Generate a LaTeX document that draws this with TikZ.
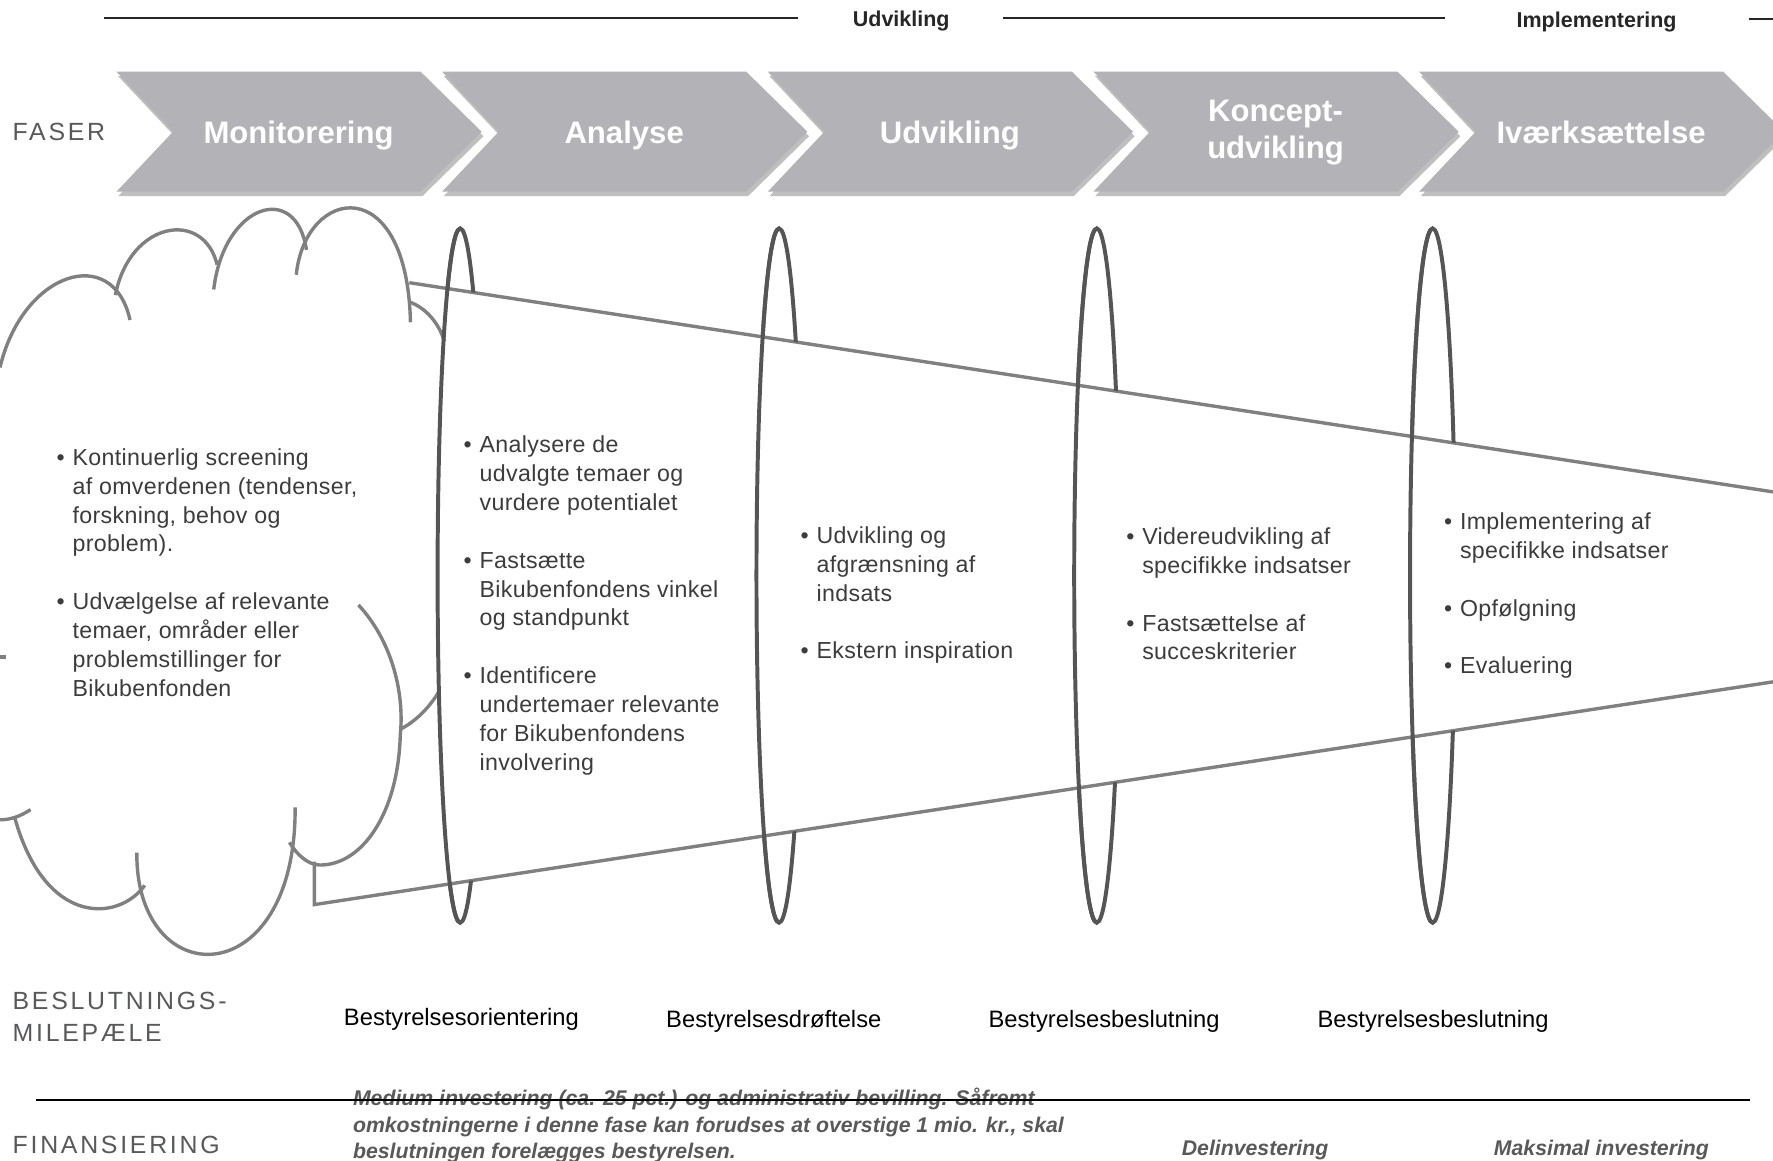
\documentclass[tikz,border=0pt]{standalone}
\usepackage{fontspec}
\setmainfont{Liberation Sans}
\newfontfamily\bodyfont[LetterSpace=1.5]{Liberation Sans}
\newfontfamily\capfont[LetterSpace=11]{Liberation Sans}
\usetikzlibrary{shadows}
\definecolor{chevgray}{RGB}{178,178,183}
\definecolor{cloudgray}{RGB}{128,128,128}
\definecolor{ringgray}{RGB}{85,85,85}
\definecolor{bodygray}{RGB}{60,60,60}
\definecolor{capgray}{RGB}{88,89,91}
\definecolor{fingray}{RGB}{89,89,89}
\newcommand{\bul}{\llap{\textbullet\hspace{7pt}}}
\begin{document}
\begin{tikzpicture}[x=1pt,y=-1pt,
  chev/.style={fill=chevgray, drop shadow={shadow xshift=1.5pt, shadow yshift=-4pt, opacity=.25, fill=black}},
  phase/.style={text=white, font=\fontsize{27.5}{33}\selectfont\bfseries, align=center, inner sep=0},
  cloudline/.style={draw=cloudgray, line width=3pt},
  funnel/.style={draw=cloudgray, line width=3pt},
  ring/.style={draw=ringgray, line width=3.5pt},
  body/.style={text=bodygray, font=\bodyfont\fontsize{20.5}{25.5}\selectfont, align=left, inner sep=0, anchor=north west},
  mile/.style={text=black, font=\fontsize{21}{25}\selectfont, inner sep=0, anchor=base west},
  caplabel/.style={text=capgray, font=\capfont\fontsize{22}{28}\selectfont, inner sep=0, anchor=base west},
  fin/.style={text=fingray, font=\fontsize{18.8}{23.5}\selectfont\bfseries\itshape, align=left, inner sep=0},
  toplabel/.style={text=black!85, font=\fontsize{19}{22}\selectfont\bfseries, inner sep=0, anchor=base},
  rulel/.style={draw=black!85, line width=1.5pt}
]
\clip (0,0) rectangle (1568,1026);

% top rules and labels
\node[toplabel] (topU) at (797,23) {Udvikling};
\node[toplabel] (topI) at (1412,24) {Implementering};
\draw[rulel] (92,16) -- (706,16);
\draw[rulel] (887,16) -- (1278,16);
\draw[rulel] (1547,17) -- (1568,17);

% chevrons
\path[chev] (103,63.4) -- (372,63.4) -- (426,116.5) -- (372,169.5) -- (103,169.5) -- (153,116.5) -- cycle;
\path[chev] (391,63.4) -- (660,63.4) -- (714,116.5) -- (660,169.5) -- (391,169.5) -- (441,116.5) -- cycle;
\path[chev] (679,63.4) -- (948,63.4) -- (1002,116.5) -- (948,169.5) -- (679,169.5) -- (729,116.5) -- cycle;
\path[chev] (967,63.4) -- (1236,63.4) -- (1290,116.5) -- (1236,169.5) -- (967,169.5) -- (1017,116.5) -- cycle;
\path[chev] (1255,63.4) -- (1524,63.4) -- (1578,116.5) -- (1524,169.5) -- (1255,169.5) -- (1305,116.5) -- cycle;
\node[phase, anchor=base] (p1) at (264,127) {Monitorering};
\node[phase, anchor=base] (p2) at (552,127) {Analyse};
\node[phase, anchor=base] (p3) at (840,127) {Udvikling};
\node[phase] (p4) at (1128,117) {Koncept-\\udvikling};
\node[phase, anchor=base] (p5) at (1416,127) {Iværksættelse};

\node[caplabel] (lfaser) at (11,124.4) {FASER};

% cloud
\draw[cloudline] (0,325) .. controls (20,240) and (100,215) .. (115,283);
\draw[cloudline] (102,261) .. controls (115,195) and (180,185) .. (192,234);
\draw[cloudline] (189,256) .. controls (198,180) and (262,160) .. (271,221);
\draw[cloudline] (262,243) .. controls (270,165) and (360,150) .. (363,285);
\draw[cloudline] (362,267) .. controls (376,272) and (388,285) .. (393,302);
\draw[cloudline] (388,612) .. controls (378,628) and (367,638) .. (354,645);
\draw[cloudline] (317,535) .. controls (345,565) and (358,610) .. (354,650)
   .. controls (352,720) and (320,765) .. (283,765) .. controls (272,765) and (262,755) .. (256,745);
\draw[cloudline] (261,714) .. controls (262,880) and (120,880) .. (121,754);
\draw[cloudline] (128,783) .. controls (105,815) and (40,820) .. (13,723);
\draw[cloudline] (27,716) .. controls (18,722) and (9,725) .. (0,725);
\draw[cloudline] (0,581) -- (5,581);

% funnel
\coordinate (ft0) at (362,250);
\coordinate (ft1) at (1568,435);
\coordinate (fv) at (278,762);
\coordinate (fb0) at (278,800);
\coordinate (fb1) at (1568,603);
\draw[funnel] (ft0) -- (ft1);
\draw[funnel] (fv) -- (fb0) -- (fb1);

% rings
\begin{scope}
\clip (300,0) -- (1600,0) -- (1600,439.9) -- (300,240.5) -- cycle
      (300,796.6) -- (1600,598.1) -- (1600,1100) -- (300,1100) -- cycle;
\foreach \cx in {407,689,970,1267}
  \draw[ring] (\cx,509) ellipse [x radius=20, y radius=307];
\end{scope}
\foreach \cx in {407,689,970,1267}
  \draw[ring] (\cx,202) .. controls ({\cx-11.05},202) and ({\cx-20},339.4) .. ({\cx-20},509)
     .. controls ({\cx-20},678.6) and ({\cx-11.05},816) .. (\cx,816);

% body texts
\node[body] (tmon) at (64,396.5) {\bul Kontinuerlig screening\\af omverdenen (tendenser,\\forskning, behov og\\problem).\\[25.5pt]\bul Udvælgelse af relevante\\temaer, områder eller\\problemstillinger for\\Bikubenfonden};
\node[body] (tana) at (424,385.5) {\bul Analysere de\\udvalgte temaer og\\vurdere potentialet\\[25.5pt]\bul Fastsætte\\Bikubenfondens vinkel\\og standpunkt\\[25.5pt]\bul Identificere\\undertemaer relevante\\for Bikubenfondens\\involvering};
\node[body] (tudv) at (722,465.5) {\bul Udvikling og\\afgrænsning af\\indsats\\[25.5pt]\bul Ekstern inspiration};
\node[body] (tkon) at (1010,466.5) {\bul Videreudvikling af\\specifikke indsatser\\[25.5pt]\bul Fastsættelse af\\succeskriterier};
\node[body] (tivr) at (1291,453.5) {\bul Implementering af\\specifikke indsatser\\[25.5pt]\bul Opfølgning\\[25.5pt]\bul Evaluering};

% milestones
\node[caplabel] (lbes1) at (11,893) {BESLUTNINGS-};
\node[caplabel] (lbes2) at (11,921) {MILEPÆLE};
\node[mile] (m1) at (304,906.5) {Bestyrelsesorientering};
\node[mile] (m2) at (589,908.5) {Bestyrelsesdrøftelse};
\node[mile] (m3) at (874,908.5) {Bestyrelsesbeslutning};
\node[mile] (m4) at (1165,908.5) {Bestyrelsesbeslutning};

% financing
\node[caplabel] (lfin) at (11,1020.3) {FINANSIERING};
\node[fin, anchor=north west] (f1) at (312,962) {Medium investering (ca. 25 pct.) og administrativ bevilling. Såfremt\\omkostningerne i denne fase kan forudses at overstige 1 mio. kr., skal\\beslutningen forelægges bestyrelsen.};
\node[fin, anchor=base west] (f2) at (1045,1021.7) {Delinvestering};
\node[fin, anchor=base west] (f3) at (1321,1021.7) {Maksimal investering};
\draw[draw=black, line width=2pt] (32,972.5) -- (1548,972.5);
\end{tikzpicture}
\end{document}
